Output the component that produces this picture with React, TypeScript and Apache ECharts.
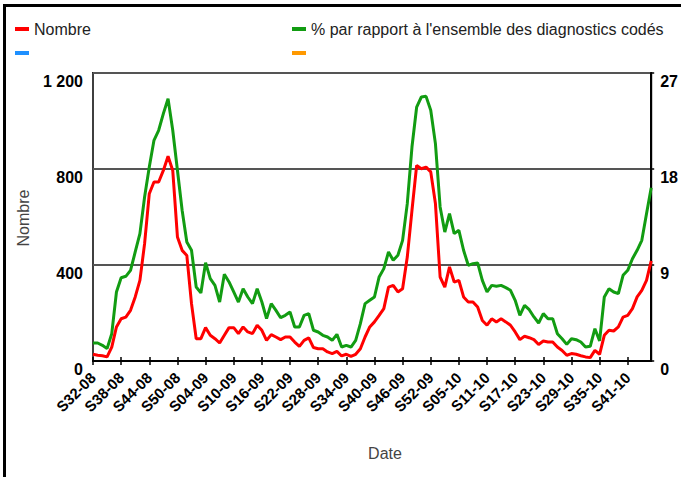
import React, { useEffect, useRef } from "react";
import * as echarts from "echarts";

const weeks2008 = [
  "S32-08","S33-08","S34-08","S35-08","S36-08","S37-08","S38-08","S39-08","S40-08","S41-08",
  "S42-08","S43-08","S44-08","S45-08","S46-08","S47-08","S48-08","S49-08","S50-08","S51-08","S52-08",
];
const weeks2009 = [
  "S01-09","S02-09","S03-09","S04-09","S05-09","S06-09","S07-09","S08-09","S09-09","S10-09",
  "S11-09","S12-09","S13-09","S14-09","S15-09","S16-09","S17-09","S18-09","S19-09","S20-09",
  "S21-09","S22-09","S23-09","S24-09","S25-09","S26-09","S27-09","S28-09","S29-09","S30-09",
  "S31-09","S32-09","S33-09","S34-09","S35-09","S36-09","S37-09","S38-09","S39-09","S40-09",
  "S41-09","S42-09","S43-09","S44-09","S45-09","S46-09","S47-09","S48-09","S49-09","S50-09",
  "S51-09","S52-09","S53-09",
];
const weeks2010 = [
  "S01-10","S02-10","S03-10","S04-10","S05-10","S06-10","S07-10","S08-10","S09-10","S10-10",
  "S11-10","S12-10","S13-10","S14-10","S15-10","S16-10","S17-10","S18-10","S19-10","S20-10",
  "S21-10","S22-10","S23-10","S24-10","S25-10","S26-10","S27-10","S28-10","S29-10","S30-10",
  "S31-10","S32-10","S33-10","S34-10","S35-10","S36-10","S37-10","S38-10","S39-10","S40-10",
  "S41-10","S42-10","S43-10","S44-10","S45-10","S46-10",
];
const categories = [...weeks2008, ...weeks2009, ...weeks2010];

// Nombre (left axis)
const nombre = [
  28, 24, 22, 17, 58, 142, 176, 183, 211, 267,
  336, 489, 697, 746, 746, 794, 853, 794, 517, 461,
  440, 239, 93, 93, 139, 107, 93, 75, 107, 139,
  139, 114, 142, 121, 114, 149, 128, 86, 110, 100,
  89, 100, 100, 79, 61, 86, 96, 56, 51, 51,
  38, 31, 40, 21, 28, 19, 28, 51, 100, 142,
  163, 190, 218, 308, 315, 288, 301, 433, 628, 815,
  801, 808, 788, 656, 350, 308, 392, 329, 336, 267,
  246, 246, 225, 169, 149, 176, 163, 176, 163, 149,
  121, 89, 103, 97, 89, 69, 83, 79, 79, 58,
  44, 24, 31, 28, 22, 17, 14, 44, 28, 107,
  128, 125, 142, 183, 190, 218, 267, 294, 336, 417,
];

// % par rapport à l'ensemble des diagnostics codés (right axis)
const pourcentage = [
  1.69, 1.69, 1.47, 1.16, 2.56, 6.47, 7.81, 7.94, 8.5, 10.22,
  11.94, 15.38, 18.19, 20.69, 21.63, 23.19, 24.59, 21.63, 17.88, 14.13,
  11.16, 10.38, 6.94, 6.38, 9.22, 7.72, 7.09, 5.53, 8.13, 7.41,
  6.47, 5.53, 6.78, 6.0, 5.38, 6.78, 5.53, 3.97, 5.38, 4.75,
  4.06, 4.28, 4.59, 3.19, 3.19, 4.28, 4.44, 2.88, 2.72, 2.41,
  2.25, 1.94, 2.5, 1.31, 1.47, 1.31, 1.94, 3.5, 5.38, 5.69,
  6.0, 7.88, 8.66, 10.22, 9.44, 9.91, 11.31, 14.75, 20.06, 23.81,
  24.75, 24.81, 23.5, 20.38, 14.44, 12.09, 13.81, 11.94, 12.25, 10.38,
  8.97, 9.13, 9.19, 7.56, 6.47, 7.09, 7.0, 7.09, 6.88, 6.63,
  5.69, 4.28, 5.22, 4.81, 4.13, 3.56, 4.44, 3.97, 3.97, 2.56,
  2.09, 1.56, 2.09, 2.0, 1.78, 1.31, 1.38, 3.03, 1.88, 6.0,
  6.78, 6.47, 6.31, 8.03, 8.5, 9.59, 10.38, 11.31, 13.81, 16.25,
];

const leftTicks = [0, 400, 800, 1200];
const rightTicks = [0, 9, 18, 27];

const FONT = "'Liberation Sans', Arial, Helvetica, sans-serif";

export default function App() {
  const ref = useRef<HTMLDivElement>(null);

  useEffect(() => {
    if (!ref.current) return;
    const chart = echarts.init(ref.current, undefined, { renderer: "svg" });
    const tickLabel = {
      fontFamily: FONT,
      fontWeight: "bold" as const,
      color: "#000",
    };
    const legendText = { fontFamily: FONT, fontSize: 16, color: "#222" };
    chart.setOption({
      animation: false,
      backgroundColor: "#fff",
      textStyle: { fontFamily: FONT },
      grid: {
        left: 93,
        right: 29,
        top: 73,
        bottom: 116,
        show: true,
        borderColor: "#000",
        borderWidth: 2,
        backgroundColor: "transparent",
      },
      legend: [
        {
          data: ["Nombre"],
          left: 15,
          top: 21,
          padding: 0,
          icon: "rect",
          itemWidth: 14,
          itemHeight: 4,
          textStyle: legendText,
        },
        {
          data: ["% par rapport à l'ensemble des diagnostics codés"],
          left: 292,
          top: 21,
          padding: 0,
          icon: "rect",
          itemWidth: 14,
          itemHeight: 4,
          textStyle: legendText,
        },
      ],
      xAxis: [
        {
          type: "category",
          data: categories,
          boundaryGap: false,
          axisLine: { lineStyle: { color: "#000", width: 2 } },
          axisTick: { show: true, interval: 5, length: 4, lineStyle: { color: "#000", width: 1.5 } },
          axisLabel: { ...tickLabel, fontSize: 15, interval: 5, rotate: 45, margin: 14 },
          splitLine: { show: false },
        },
        {
          type: "category",
          data: categories,
          boundaryGap: false,
          position: "bottom",
          axisLine: { show: false },
          axisTick: { show: true, inside: true, interval: 5, length: 4, lineStyle: { color: "#000", width: 1.5 } },
          axisLabel: { show: false },
          splitLine: { show: false },
        },
      ],
      yAxis: [
        {
          type: "value",
          min: leftTicks[0],
          max: leftTicks[leftTicks.length - 1],
          interval: 400,
          position: "left",
          axisLine: { show: true, lineStyle: { color: "#555", width: 1.5 } },
          axisTick: { show: false },
          splitLine: { show: true, lineStyle: { color: "#555", width: 2 } },
          axisLabel: {
            ...tickLabel,
            fontSize: 16,
            margin: 10,
            verticalAlign: "top",
            formatter: (v: number) => (v >= 1000 ? String(v).replace(/(\d)(?=(\d{3})+$)/g, "$1 ") : String(v)),
          },
        },
        {
          type: "value",
          min: rightTicks[0],
          max: rightTicks[rightTicks.length - 1],
          interval: 9,
          position: "right",
          axisLine: { show: true, lineStyle: { color: "#000", width: 2 } },
          axisTick: { show: true, length: 3, lineStyle: { color: "#000", width: 1.5 } },
          splitLine: { show: false },
          axisLabel: { ...tickLabel, fontSize: 16, margin: 9, verticalAlign: "top" },
        },
      ],
      graphic: [
        {
          type: "rect",
          shape: { x: 4.5, y: 5.5, width: 700, height: 500 },
          style: { fill: "none", stroke: "#000", lineWidth: 3 },
          silent: true,
        },
        {
          type: "rect",
          shape: { x: 15, y: 51, width: 14, height: 4 },
          style: { fill: "#1e90ff" },
          silent: true,
        },
        {
          type: "rect",
          shape: { x: 292, y: 51, width: 14, height: 4 },
          style: { fill: "#ff9900" },
          silent: true,
        },
        {
          type: "text",
          x: 23,
          y: 218,
          rotation: Math.PI / 2,
          style: {
            text: "Nombre",
            fill: "#444",
            font: `16px ${FONT}`,
            align: "center",
            verticalAlign: "middle",
          },
          silent: true,
        },
        {
          type: "text",
          x: 385,
          y: 453,
          style: {
            text: "Date",
            fill: "#444",
            font: `16px ${FONT}`,
            align: "center",
            verticalAlign: "middle",
          },
          silent: true,
        },
      ],
      series: [
        {
          name: "Nombre",
          type: "line",
          xAxisIndex: 0,
          yAxisIndex: 0,
          data: nombre,
          showSymbol: false,
          symbol: "none",
          lineStyle: { color: "#ff0000", width: 3 },
          itemStyle: { color: "#ff0000" },
          z: 3,
        },
        {
          name: "% par rapport à l'ensemble des diagnostics codés",
          type: "line",
          xAxisIndex: 0,
          yAxisIndex: 1,
          data: pourcentage,
          showSymbol: false,
          symbol: "none",
          lineStyle: { color: "#129c12", width: 3 },
          itemStyle: { color: "#129c12" },
          z: 2,
        },
      ],
    });
    return () => chart.dispose();
  }, []);

  return (
    <div
      ref={ref}
      style={{ position: "absolute", left: 0, top: 0, width: 681, height: 477 }}
    />
  );
}
